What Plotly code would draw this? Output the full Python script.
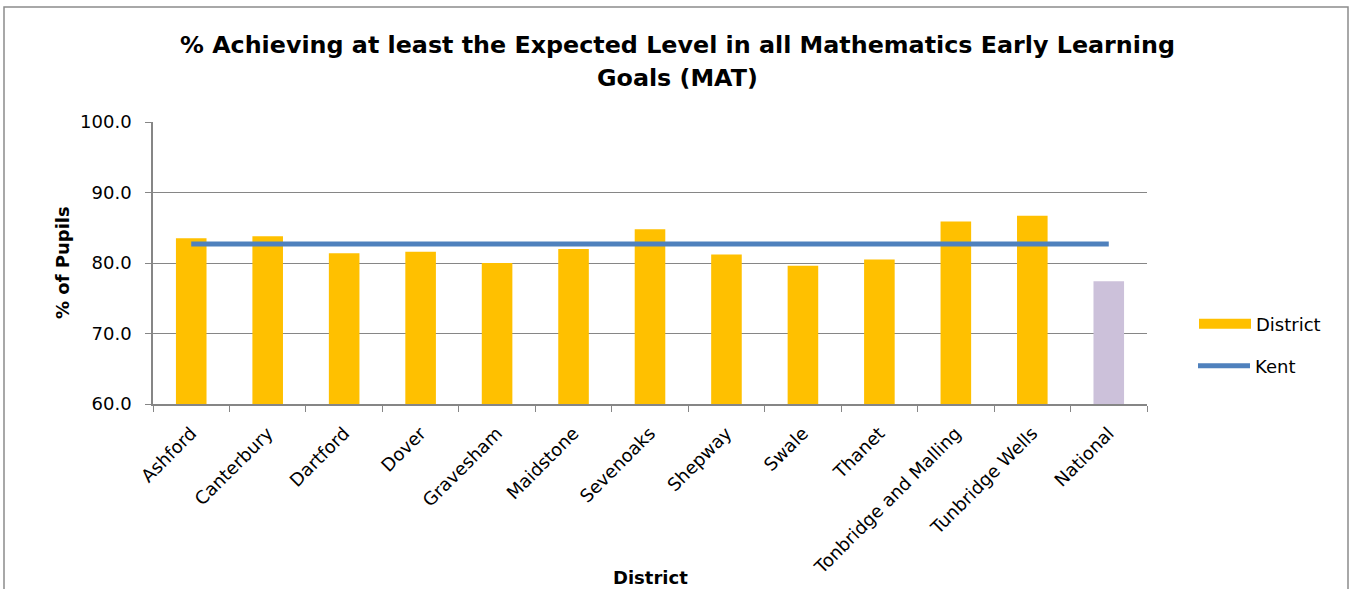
import plotly.graph_objects as go

districts = ["Ashford", "Canterbury", "Dartford", "Dover", "Gravesham", "Maidstone",
             "Sevenoaks", "Shepway", "Swale", "Thanet", "Tonbridge and Malling",
             "Tunbridge Wells", "National"]
district_values = [83.5, 83.8, 81.4, 81.6, 80.0, 82.0, 84.8, 81.2, 79.6, 80.5, 85.9, 86.7, 77.4]
kent_value = 82.7
kent_values = [kent_value] * len(districts)
y_ticks = [60, 70, 80, 90, 100]

title_line1 = "% Achieving at least the Expected Level in all Mathematics Early Learning"
title_line2 = "Goals (MAT)"

ORANGE = "#FFC000"
LILAC = "#CCC1DA"
BLUE = "#4F81BD"
GREY = "#868686"
FONT = "DejaVu Sans, Verdana, sans-serif"

bar_colors = [LILAC if d == "National" else ORANGE for d in districts]

fig = go.Figure()
fig.add_trace(go.Bar(x=districts, y=district_values,
                     marker=dict(color=bar_colors, line=dict(width=0)),
                     width=0.40, showlegend=False, name="District"))
fig.add_trace(go.Scatter(x=districts, y=kent_values, mode="lines",
                         line=dict(color=BLUE, width=5), showlegend=False, name="Kent"))
# legend entries
fig.add_trace(go.Scatter(x=[None], y=[None], mode="lines", line=dict(color=ORANGE, width=11),
                         name="District", legend="legend"))
fig.add_trace(go.Scatter(x=[None], y=[None], mode="lines", line=dict(color=BLUE, width=5),
                         name="Kent", legend="legend2"))

W, H = 1354, 589
L, R, T, B = 153, 1147, 122, 404
pw, ph = R - L, B - T


def px_x(p):
    return (p - L) / pw


def px_y(p):
    return (B - p) / ph


fig.add_shape(type="rect", xref="paper", yref="paper",
              x0=px_x(4), x1=px_x(1348), y0=px_y(640), y1=px_y(7),
              line=dict(color="#8C8C8C", width=1.5), fillcolor="rgba(0,0,0,0)", layer="below")

annotations = [
    dict(text="<b>" + title_line1 + "</b>", x=px_x(677), y=px_y(45)),
    dict(text="<b>" + title_line2 + "</b>", x=px_x(677), y=px_y(78)),
]
for a in annotations:
    fig.add_annotation(xref="paper", yref="paper", xanchor="center", yanchor="middle",
                       showarrow=False, text=a["text"], x=a["x"], y=a["y"],
                       font=dict(size=23.8, family=FONT, color="black"))
fig.add_annotation(xref="paper", yref="paper", xanchor="center", yanchor="middle",
                   showarrow=False, text="<b>District</b>", x=px_x(650), y=px_y(577),
                   font=dict(size=18, family=FONT, color="black"))
fig.add_annotation(xref="paper", yref="paper", xanchor="center", yanchor="middle",
                   showarrow=False, text="<b>% of Pupils</b>", x=px_x(62), y=px_y(263),
                   textangle=-90, font=dict(size=18, family=FONT, color="black"))

legend_common = dict(xanchor="left", yanchor="middle", font=dict(size=18, family=FONT),
                     bgcolor="rgba(0,0,0,0)", itemwidth=52, borderwidth=0)

fig.update_layout(
    width=W, height=H,
    margin=dict(l=L, r=W - R, t=T, b=H - B),
    paper_bgcolor="white", plot_bgcolor="white",
    font=dict(family=FONT, color="black", size=18),
    bargap=0.6,
    legend=dict(x=px_x(1194), y=px_y(324), **legend_common),
    legend2=dict(x=px_x(1193), y=px_y(366), **legend_common),
)
fig.update_xaxes(type="category", showline=True, linecolor=GREY, linewidth=1.5,
                 ticks="outside", tickson="boundaries", ticklen=6, tickcolor=GREY,
                 tickangle=-45, tickfont=dict(size=18, family=FONT),
                 ticklabelstandoff=10, showgrid=False)
fig.update_yaxes(range=[60, 100], tickvals=y_ticks, ticktext=[f"{v:.1f}" for v in y_ticks],
                 showline=True, linecolor=GREY, linewidth=1.5, ticks="outside", ticklen=6,
                 tickcolor=GREY, showgrid=True, gridcolor=GREY, gridwidth=1.3,
                 tickfont=dict(size=18, family=FONT), ticklabelstandoff=10,
                 zeroline=False)

fig.write_html("out.html", config={"displayModeBar": False},
               post_script="document.body.style.margin='0';")
